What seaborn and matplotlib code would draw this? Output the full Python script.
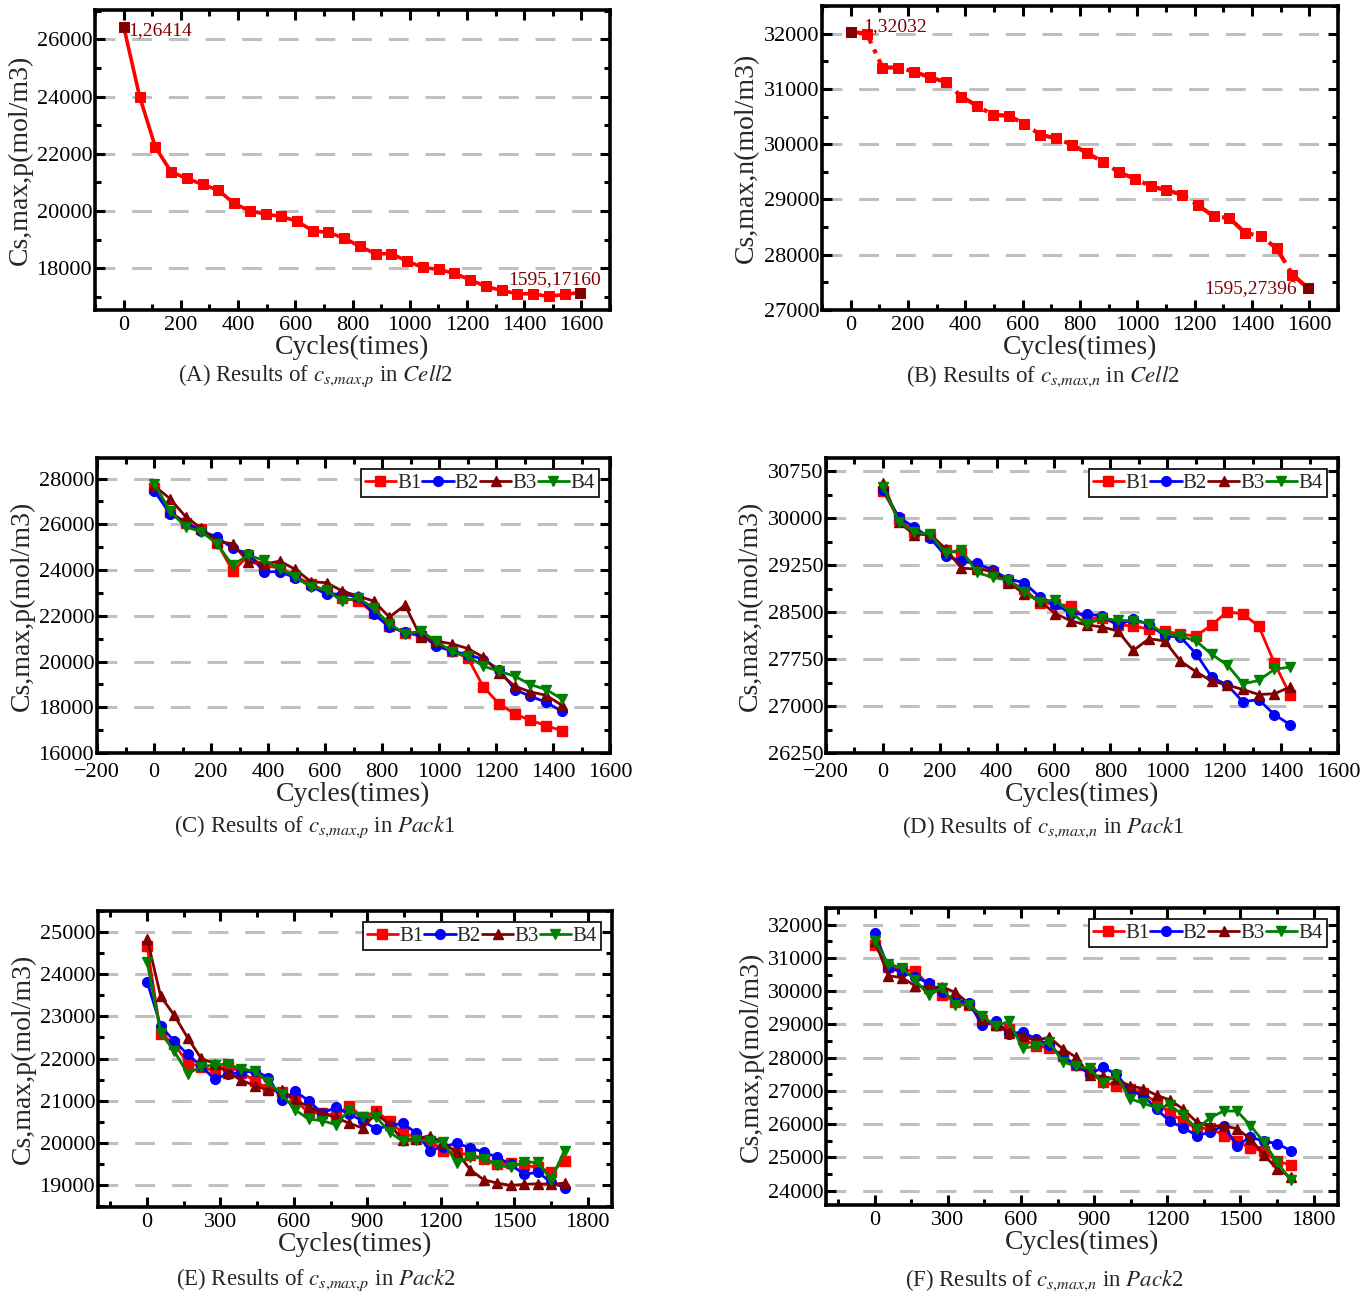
import matplotlib
matplotlib.use("Agg")
import matplotlib.pyplot as plt
from matplotlib.ticker import MultipleLocator
import seaborn as sns

# ---------------- data ----------------
cycles_cell = [1, 56, 111, 166, 221, 276, 331, 386, 441, 496, 551, 606, 661, 716, 771,
               826, 881, 936, 991, 1046, 1101, 1156, 1211, 1266, 1321, 1376, 1431, 1486,
               1541, 1595]
cell2_p = [26414, 24000, 22233, 21372, 21140, 20930, 20733, 20267, 20012, 19895, 19814,
           19651, 19314, 19256, 19058, 18767, 18512, 18512, 18256, 18035, 17965, 17826,
           17605, 17372, 17233, 17116, 17116, 17023, 17093, 17160]
cell2_n = [32032, 32000, 31387, 31387, 31312, 31210, 31126, 30862, 30694, 30532, 30514,
           30370, 30172, 30106, 29994, 29838, 29676, 29490, 29376, 29244, 29166, 29088,
           28896, 28698, 28662, 28398, 28332, 28116, 27641, 27396]

cycles_pack1 = [1, 56, 111, 166, 221, 276, 331, 386, 441, 496, 551, 606, 661, 716, 771,
                826, 881, 936, 991, 1046, 1101, 1156, 1211, 1266, 1321, 1376, 1431]
pack1_p_b1 = [27606, 26555, 26073, 25781, 25197, 23956, 24613, 24175, 24102, 23737, 23372,
              23080, 22788, 22642, 22131, 21547, 21255, 21109, 20817, 20452, 20160, 18890,
              18145, 17707, 17430, 17196, 16977]
pack1_p_b2 = [27460, 26467, 26073, 25708, 25445, 24949, 24715, 23927, 23927, 23664, 23299,
              22934, 22963, 22817, 22087, 21503, 21299, 21182, 20671, 20452, 20306, 20087,
              19649, 18773, 18481, 18218, 17824]
pack1_p_b3 = [27679, 27124, 26336, 25825, 25241, 25153, 24350, 24248, 24394, 24029, 23489,
              23445, 23080, 22861, 22642, 21941, 22467, 21065, 20890, 20773, 20569, 20189,
              19503, 18919, 18671, 18525, 18087]
pack1_p_b4 = [27781, 26584, 25883, 25679, 25153, 24204, 24657, 24423, 24058, 23693, 23270,
              23109, 22642, 22788, 22321, 21649, 21211, 21328, 20890, 20423, 20233, 19795,
              19576, 19357, 18992, 18773, 18364]

pack1_n_b1 = [30430, 29987, 29773, 29720, 29490, 29437, 29213, 29133, 28999, 28866, 28652,
              28625, 28599, 28385, 28412, 28295, 28279, 28225, 28198, 28145, 28118, 28295,
              28508, 28465, 28279, 27691, 27184]
pack1_n_b2 = [30451, 30013, 29853, 29682, 29399, 29309, 29277, 29170, 29026, 28972, 28743,
              28625, 28476, 28465, 28439, 28295, 28385, 28305, 28118, 28102, 27835, 27462,
              27334, 27067, 27104, 26864, 26704]
pack1_n_b3 = [30558, 29933, 29736, 29746, 29506, 29202, 29186, 29159, 28972, 28796, 28679,
              28476, 28359, 28295, 28262, 28198, 27889, 28076, 28038, 27718, 27547, 27398,
              27334, 27264, 27184, 27195, 27302]
pack1_n_b4 = [30504, 29944, 29773, 29746, 29437, 29490, 29133, 29053, 29010, 28828, 28663,
              28695, 28492, 28305, 28401, 28369, 28359, 28316, 28145, 28118, 28038, 27825,
              27654, 27355, 27408, 27585, 27622]

cycles_pack2 = [1, 56, 111, 166, 221, 276, 331, 386, 441, 496, 551, 606, 661, 716, 771,
                826, 881, 936, 991, 1046, 1101, 1156, 1211, 1266, 1321, 1376, 1431, 1486,
                1541, 1596, 1651, 1706]
pack2_p_b1 = [24661, 22591, 22339, 21906, 21803, 21709, 21827, 21669, 21472, 21276, 21197,
              21000, 20724, 20701, 20646, 20882, 20606, 20748, 20512, 20228, 20134, 20055,
              19819, 19756, 19724, 19622, 19504, 19520, 19465, 19425, 19307, 19567]
pack2_p_b2 = [23819, 22772, 22417, 22102, 21827, 21512, 21630, 21669, 21709, 21551, 21016,
              21220, 21000, 20701, 20843, 20685, 20528, 20331, 20409, 20465, 20228, 19819,
              19913, 19992, 19882, 19780, 19661, 19488, 19252, 19307, 19071, 18937]
pack2_p_b3 = [24843, 23480, 23031, 22496, 22008, 21882, 21669, 21488, 21354, 21252, 21252,
              21016, 20858, 20701, 20606, 20465, 20354, 20701, 20433, 20071, 20094, 20173,
              19992, 19780, 19362, 19126, 19047, 18992, 19016, 19031, 19016, 19047]
pack2_p_b4 = [24291, 22614, 22181, 21646, 21803, 21850, 21866, 21748, 21709, 21433, 21157,
              20780, 20567, 20528, 20433, 20780, 20606, 20622, 20252, 20039, 20071, 20039,
              20016, 19520, 19677, 19622, 19465, 19425, 19543, 19543, 19126, 19819]

pack2_n_b1 = [31374, 30738, 30637, 30606, 30182, 29899, 29677, 29596, 29122, 28970, 28869,
              28566, 28364, 28283, 28061, 27778, 27556, 27273, 27152, 27071, 26930, 26647,
              26324, 26092, 25859, 25890, 25657, 25486, 25284, 25183, 24880, 24779]
pack2_n_b2 = [31748, 30687, 30586, 30435, 30233, 29960, 29728, 29657, 28970, 29091, 28718,
              28768, 28566, 28384, 28011, 27778, 27506, 27708, 27506, 27001, 26869, 26445,
              26092, 25890, 25657, 25758, 25960, 25354, 25617, 25486, 25415, 25203]
pack2_n_b3 = [31495, 30465, 30404, 30162, 30101, 30132, 29960, 29627, 29152, 28990, 28748,
              28647, 28516, 28617, 28263, 28011, 27475, 27435, 27354, 27152, 27071, 26869,
              26728, 26445, 26061, 25940, 25960, 25859, 25556, 25082, 24647, 24405]
pack2_n_b4 = [31515, 30808, 30707, 30334, 29879, 30101, 29576, 29596, 29253, 28950, 29091,
              28283, 28344, 28465, 27879, 27738, 27677, 27233, 27475, 26768, 26627, 26496,
              26566, 26263, 25859, 26193, 26395, 26395, 25960, 25455, 24849, 24324]

series_names = ["B1", "B2", "B3", "B4"]
series_colors = ["#FF0000", "#0000FF", "#800000", "#008000"]
series_markers = ["s", "o", "^", "v"]

ylabel_p = "Cs,max,p(mol/m3)"
ylabel_n = "Cs,max,n(mol/m3)"
xlabel = "Cycles(times)"
captions = [
    r"(A) Results of $c_{s{,}max{,}p}$ in $\mathit{Cell}$2",
    r"(B) Results of $c_{s{,}max{,}n}$ in $\mathit{Cell}$2",
    r"(C) Results of $c_{s{,}max{,}p}$ in $\mathit{Pack}$1",
    r"(D) Results of $c_{s{,}max{,}n}$ in $\mathit{Pack}$1",
    r"(E) Results of $c_{s{,}max{,}p}$ in $\mathit{Pack}$2",
    r"(F) Results of $c_{s{,}max{,}n}$ in $\mathit{Pack}$2",
]

# ---------------- style ----------------
sns.set_style("ticks")
plt.rcParams["font.family"] = ["Liberation Serif", "DejaVu Serif"]
plt.rcParams["mathtext.fontset"] = "stix"

W, H = 1367, 1296
fig = plt.figure(figsize=(W / 100, H / 100), dpi=100)
fig.patch.set_facecolor("white")


def make_axes(l, t, r, b):
    return fig.add_axes([l / W, 1 - b / H, (r - l) / W, (b - t) / H])


def style_axes(ax, xlim, xmaj, xmin, ylim, ymaj, ymin, ylab, xpad=4.5):
    ax.set_xlim(*xlim)
    ax.set_ylim(*ylim)
    ax.xaxis.set_major_locator(MultipleLocator(xmaj))
    ax.xaxis.set_minor_locator(MultipleLocator(xmin))
    ax.yaxis.set_major_locator(MultipleLocator(ymaj))
    ax.yaxis.set_minor_locator(MultipleLocator(ymin))
    ax.tick_params(which="both", direction="in", top=True, right=True,
                   labeltop=False, labelright=False, width=2.2, colors="black",
                   labelsize=16)
    ax.tick_params(axis="y", pad=2)
    ax.tick_params(axis="x", pad=xpad)
    ax.tick_params(which="major", length=7)
    ax.tick_params(which="minor", length=4)
    for sp in ax.spines.values():
        sp.set_visible(True)
        sp.set_linewidth(2.6)
        sp.set_color("black")
    ax.set_axisbelow(True)
    ax.yaxis.grid(True, which="major", color="#C0C0C0",
                  linestyle=(0, (6.5, 5.5)), linewidth=2.2)
    ax.xaxis.grid(False)
    ax.set_xlabel(xlabel, fontsize=20, labelpad=0)
    ax.set_ylabel(ylab, fontsize=20, labelpad=3)
    ax.set_facecolor("white")


def draw_packs(ax, cycles, all_vals):
    for name, col, mk, vals in zip(series_names, series_colors, series_markers, all_vals):
        sns.lineplot(x=cycles, y=vals, ax=ax, color=col, marker=mk, markersize=7,
                     markeredgecolor=col, markeredgewidth=1, linewidth=2,
                     label=name, errorbar=None)
    leg = ax.legend(loc="upper right", ncol=4, handlelength=1.5, handletextpad=0.05,
                    columnspacing=0.05, borderpad=0.2, borderaxespad=0.55,
                    frameon=True, fancybox=False, edgecolor="black", framealpha=1,
                    fontsize=15)
    leg.get_frame().set_linewidth(1.2)


anno_color = "#800000"

# (A) cell 2, positive electrode
axA = make_axes(95, 10, 610, 310)
sns.lineplot(x=cycles_cell, y=cell2_p, ax=axA, color="#FF0000", marker="s",
             markersize=6.5, markeredgecolor="#FF0000", linewidth=2.6, errorbar=None)
sns.scatterplot(x=[cycles_cell[0], cycles_cell[-1]], y=[cell2_p[0], cell2_p[-1]],
                ax=axA, color=anno_color, marker="s", s=45, edgecolor=anno_color, zorder=5)
axA.annotate(f"{cycles_cell[0]},{cell2_p[0]}", xy=(cycles_cell[0], cell2_p[0]),
             xytext=(3, -2), textcoords="offset points", ha="left", va="center",
             color=anno_color, fontsize=14)
axA.annotate(f"{cycles_cell[-1]},{cell2_p[-1]}", xy=(cycles_cell[-1], cell2_p[-1]),
             xytext=(-18, 9), textcoords="offset points", ha="center", va="center",
             color=anno_color, fontsize=14)
style_axes(axA, (-100, 1700), 200, 100, (16550, 27020), 2000, 1000, ylabel_p)

# (B) cell 2, negative electrode
axB = make_axes(822, 6, 1338, 310)
sns.lineplot(x=cycles_cell, y=cell2_n, ax=axB, color="#FF0000", marker="s",
             markersize=7, markeredgecolor="#FF0000", linewidth=3, linestyle="-.",
             errorbar=None)
sns.scatterplot(x=[cycles_cell[0], cycles_cell[-1]], y=[cell2_n[0], cell2_n[-1]],
                ax=axB, color=anno_color, marker="s", s=45, edgecolor=anno_color, zorder=5)
axB.annotate(f"{cycles_cell[0]},{cell2_n[0]}", xy=(cycles_cell[0], cell2_n[0]),
             xytext=(9, 4), textcoords="offset points", ha="left", va="center",
             color=anno_color, fontsize=14)
axB.annotate(f"{cycles_cell[-1]},{cell2_n[-1]}", xy=(cycles_cell[-1], cell2_n[-1]),
             xytext=(-8, 0), textcoords="offset points", ha="right", va="center",
             color=anno_color, fontsize=14)
style_axes(axB, (-100, 1700), 200, 100, (27000, 32500), 1000, 500, ylabel_n)

# (C) pack 1, positive electrode
axC = make_axes(97, 458, 610, 753)
draw_packs(axC, cycles_pack1, [pack1_p_b1, pack1_p_b2, pack1_p_b3, pack1_p_b4])
style_axes(axC, (-200, 1600), 200, 100, (16000, 28900), 2000, 1000, ylabel_p, xpad=7)

# (D) pack 1, negative electrode
axD = make_axes(826, 458, 1338, 753)
draw_packs(axD, cycles_pack1, [pack1_n_b1, pack1_n_b2, pack1_n_b3, pack1_n_b4])
style_axes(axD, (-200, 1600), 200, 100, (26250, 30960), 750, 375, ylabel_n, xpad=7)

# (E) pack 2, positive electrode
axE = make_axes(98, 911, 612, 1207)
draw_packs(axE, cycles_pack2, [pack2_p_b1, pack2_p_b2, pack2_p_b3, pack2_p_b4])
style_axes(axE, (-200, 1900), 300, 150, (18480, 25500), 1000, 500, ylabel_p)

# (F) pack 2, negative electrode
axF = make_axes(826, 908, 1338, 1205)
draw_packs(axF, cycles_pack2, [pack2_n_b1, pack2_n_b2, pack2_n_b3, pack2_n_b4])
style_axes(axF, (-200, 1900), 300, 150, (23570, 32500), 1000, 500, ylabel_p)

# captions under each panel
caption_pos = [(315, 376), (1043, 376), (315, 827), (1043, 827), (316, 1280), (1044, 1280)]
for (cx, cy), txt in zip(caption_pos, captions):
    fig.text(cx / W, 1 - cy / H, txt, ha="center", va="center", fontsize=16.5)

fig.savefig("out.png", dpi=100, facecolor="white")
